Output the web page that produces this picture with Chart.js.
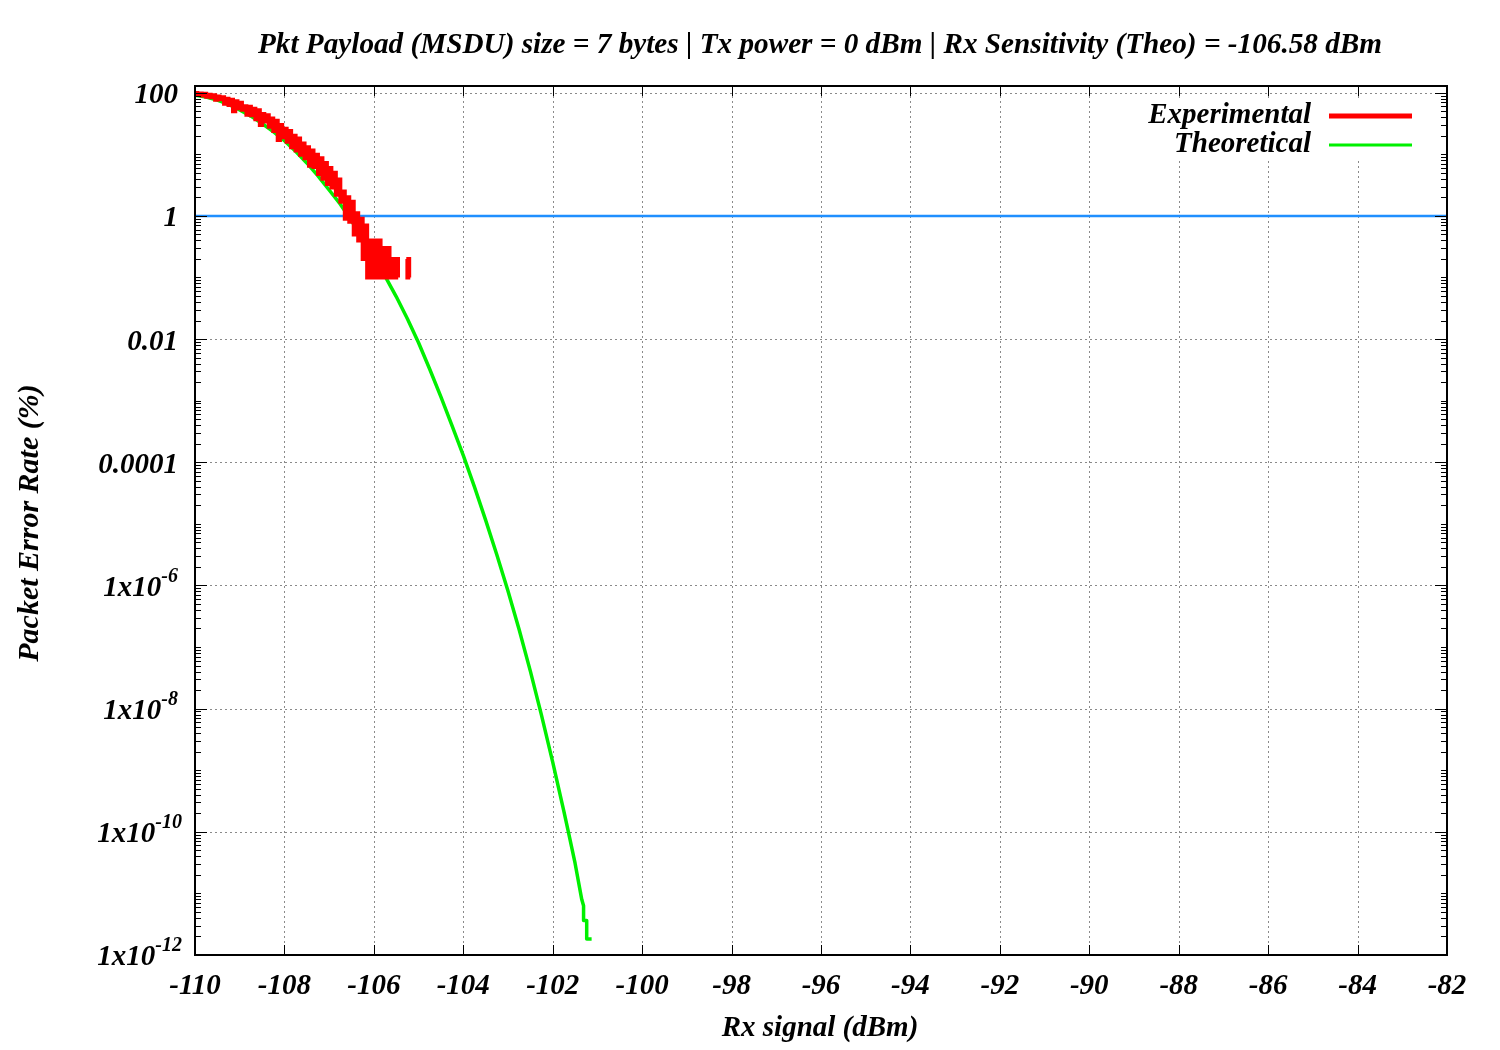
<!DOCTYPE html>
<html><head><meta charset="utf-8">
<script src="https://cdn.jsdelivr.net/npm/chart.js@4.4.0/dist/chart.umd.min.js"></script>
<style>html,body{margin:0;padding:0;background:#fff;}#wrap{width:1500px;height:1050px;}</style>
</head><body><div id="wrap"><canvas id="c" width="1500" height="1050"></canvas></div>
<script>
const titleText = 'Pkt Payload (MSDU) size = 7 bytes | Tx power = 0 dBm | Rx Sensitivity (Theo) = -106.58 dBm';
const xAxisTitle = 'Rx signal (dBm)';
const yAxisTitle = 'Packet Error Rate (%)';
const legendLabels = ['Experimental', 'Theoretical'];

const xTicks = [-110,-108,-106,-104,-102,-100,-98,-96,-94,-92,-90,-88,-86,-84,-82];
const yTickValues = [100, 1, 0.01, 1e-4, 1e-6, 1e-8, 1e-10, 1e-12];
const yTickLabels = [['100',''],['1',''],['0.01',''],['0.0001',''],['1x10','-6'],['1x10','-8'],['1x10','-10'],['1x10','-12']];

const theoX = [-110.0,-109.75,-109.5,-109.25,-109.0,-108.75,-108.5,-108.25,-108.0,-107.75,-107.5,-107.25,-107.0,-106.75,-106.5,-106.25,-106.0,-105.75,-105.5,-105.25,-105.0,-104.75,-104.5,-104.25,-104.0,-103.75,-103.5,-103.25,-103.0,-102.75,-102.5,-102.25,-102.0,-101.75,-101.65,-101.5,-101.35,-101.31,-101.31,-101.24,-101.24,-101.13];
const theoY = [91.2,85.1,75.9,64.6,52.5,41.7,31.6,23.4,16.6,11.2,7.24,4.47,2.63,1.55,0.832,0.427,0.214,0.105,0.049,0.0214,0.0087,0.00324,0.00115,3.89e-4,1.29e-4,3.98e-5,1.15e-5,3.16e-6,8.13e-7,1.91e-7,4.07e-8,7.76e-9,1.35e-9,2.14e-10,1.0e-10,3.09e-11,7.94e-12,6.31e-12,3.63e-12,3.63e-12,1.82e-12,1.82e-12];

const expX = [-110.00,-109.95,-109.90,-109.85,-109.80,-109.75,-109.70,-109.65,-109.60,-109.55,-109.50,-109.45,-109.40,-109.35,-109.30,-109.25,-109.20,-109.15,-109.10,-109.05,-109.00,-108.95,-108.90,-108.85,-108.80,-108.75,-108.70,-108.65,-108.60,-108.55,-108.50,-108.45,-108.40,-108.35,-108.30,-108.25,-108.20,-108.15,-108.10,-108.05,-108.00,-107.95,-107.90,-107.85,-107.80,-107.75,-107.70,-107.65,-107.60,-107.55,-107.50,-107.45,-107.40,-107.35,-107.30,-107.25,-107.20,-107.15,-107.10,-107.05,-107.00,-106.95,-106.90,-106.85,-106.80,-106.75,-106.70,-106.65,-106.60,-106.55,-106.50,-106.45,-106.40,-106.35,-106.30,-106.25,-106.20,-106.15,-106.10,-106.05,-106.00,-105.95,-105.90,-105.85,-105.80,-105.75,-105.70,-105.65,-105.60,-105.55,-105.50,-105.46,-105.40,-105.27,-105.25,-105.23,-105.21];
const expY = [99,93,97,90,96,86,93,84,91,77,87,78,84,66,80,63,77,50,73,56,69,53,60,44,59,43,55,37,52,30,45,34,43,28,38,24,35,17,30,19,26,16,24,13,20,11.5,18,9.8,15,8.6,13,6.5,11.5,6.2,9.8,4.8,8.6,4.0,7.2,3.3,6.0,2.9,5.0,2.2,3.9,1.7,2.5,0.9,2.0,0.8,1.7,0.5,1.1,0.4,0.9,0.2,0.7,0.1,0.4,0.1,0.4,0.1,0.4,0.1,0.3,0.1,0.3,0.1,0.2,0.1,0.2,0.1,null,0.2,0.1,0.2,0.1];

const sensX = [-110, -82];
const sensY = [1, 1];

const colExp = '#ff0000', colTheo = '#00f000', colSens = '#1f8fff';
const F = s => `bold italic ${s}px "Liberation Serif", "Times New Roman", serif`;

const deco = {
  id: 'deco',
  beforeDatasetsDraw(chart) {
    const {ctx, chartArea: a, scales: {x, y}} = chart;
    ctx.save();
    ctx.strokeStyle = '#8a8a8a'; ctx.lineWidth = 1; ctx.setLineDash([2, 3]);
    ctx.beginPath();
    xTicks.forEach(v => {
      const px = Math.round(x.getPixelForValue(v)) + 0.5;
      if (px < a.left + 3 || px > a.right - 3) return;
      ctx.moveTo(px, a.top); ctx.lineTo(px, a.bottom);
    });
    yTickValues.forEach(v => {
      const py = Math.round(y.getPixelForValue(v)) + 0.5;
      if (py < a.top + 3 || py > a.bottom - 3) return;
      ctx.moveTo(a.left, py); ctx.lineTo(a.right, py);
    });
    ctx.stroke();
    ctx.setLineDash([]);
    ctx.fillStyle = '#fff';
    ctx.fillRect(1135, 100, 290, 58);
    ctx.restore();
  },
  afterDatasetsDraw(chart) {
    const {ctx, chartArea: a, scales: {x, y}} = chart;
    ctx.save();
    ctx.strokeStyle = '#000'; ctx.lineWidth = 1;
    ctx.beginPath();
    xTicks.forEach(v => {
      const px = Math.round(x.getPixelForValue(v)) + 0.5;
      ctx.moveTo(px, a.bottom); ctx.lineTo(px, a.bottom - 10);
      ctx.moveTo(px, a.top); ctx.lineTo(px, a.top + 10);
    });
    for (let k = -12; k <= 2; k++) {
      for (let m = 1; m <= 9; m++) {
        const v = m * Math.pow(10, k);
        if (v < 1e-12 * 0.999 || v > y.max) continue;
        const major = yTickValues.some(t => Math.abs(t - v) / t < 1e-6);
        const len = major ? 12 : 6;
        const py = Math.round(y.getPixelForValue(v)) + 0.5;
        ctx.moveTo(a.left, py); ctx.lineTo(a.left + len, py);
        ctx.moveTo(a.right, py); ctx.lineTo(a.right - len, py);
      }
    }
    ctx.stroke();
    ctx.lineWidth = 2;
    ctx.strokeRect(a.left, a.top, a.right - a.left, a.bottom - a.top);

    ctx.fillStyle = '#000';
    ctx.textBaseline = 'middle';
    ctx.textAlign = 'center';
    ctx.font = F(29);
    xTicks.forEach(v => ctx.fillText(String(v), x.getPixelForValue(v), 987));

    yTickValues.forEach((v, i) => {
      const py = y.getPixelForValue(v);
      const [main, sup] = yTickLabels[i];
      ctx.font = F(20);
      const sw = sup ? ctx.measureText(sup).width : 0;
      ctx.font = F(29);
      const mw = ctx.measureText(main).width;
      const right = sup.length > 2 ? 182 : 178;
      ctx.textAlign = 'left';
      ctx.fillText(main, right - sw - mw, py + 3);
      if (sup) { ctx.font = F(20); ctx.fillText(sup, right - sw, py - 9); }
    });

    ctx.font = F(30);
    ctx.textAlign = 'center';
    const tw = ctx.measureText(titleText).width;
    const sx = 1124 / tw;
    ctx.save(); ctx.translate(820, 45); ctx.scale(sx, 1); ctx.fillText(titleText, 0, 0); ctx.restore();

    ctx.font = F(29);
    ctx.fillText(xAxisTitle, 820, 1029);
    ctx.save(); ctx.translate(30, 523); ctx.rotate(-Math.PI / 2); ctx.font = F(30); ctx.fillText(yAxisTitle, 0, 0); ctx.restore();

    ctx.textAlign = 'right';
    ctx.font = F(29);
    ctx.fillText(legendLabels[0], 1311, 116);
    ctx.fillText(legendLabels[1], 1311, 145);
    ctx.lineWidth = 5; ctx.strokeStyle = colExp;
    ctx.beginPath(); ctx.moveTo(1329, 116); ctx.lineTo(1412, 116); ctx.stroke();
    ctx.lineWidth = 3; ctx.strokeStyle = colTheo;
    ctx.beginPath(); ctx.moveTo(1329, 145); ctx.lineTo(1412, 145); ctx.stroke();
    ctx.restore();
  }
};

const pts = (xs, ys) => xs.map((v, i) => ({x: v, y: ys[i]}));

new Chart(document.getElementById('c'), {
  type: 'line',
  data: {
    datasets: [
      {label: legendLabels[0], data: pts(expX, expY), borderColor: colExp, borderWidth: 4, pointRadius: 0, stepped: 'before', spanGaps: false, fill: false, borderJoinStyle: 'miter'},
      {label: legendLabels[1], data: pts(theoX, theoY), borderColor: colTheo, borderWidth: 3.5, pointRadius: 0, tension: 0, fill: false, borderJoinStyle: 'round'},
      {label: 'sens', data: pts(sensX, sensY), borderColor: colSens, borderWidth: 2.5, pointRadius: 0, fill: false}
    ]
  },
  options: {
    responsive: false, animation: false, devicePixelRatio: 1,
    layout: {padding: {left: 0, right: 53, top: 86, bottom: 0}},
    plugins: {legend: {display: false}, title: {display: false}, tooltip: {enabled: false}},
    scales: {
      x: {type: 'linear', min: -110, max: -82, ticks: {display: false}, grid: {display: false}, border: {display: false},
          afterFit: s => { s.height = 95; }},
      y: {type: 'logarithmic', min: 1e-12, max: 128.5, ticks: {display: false}, grid: {display: false}, border: {display: false},
          afterFit: s => { s.width = 195; }}
    }
  },
  plugins: [deco]
});
</script>
</body></html>
